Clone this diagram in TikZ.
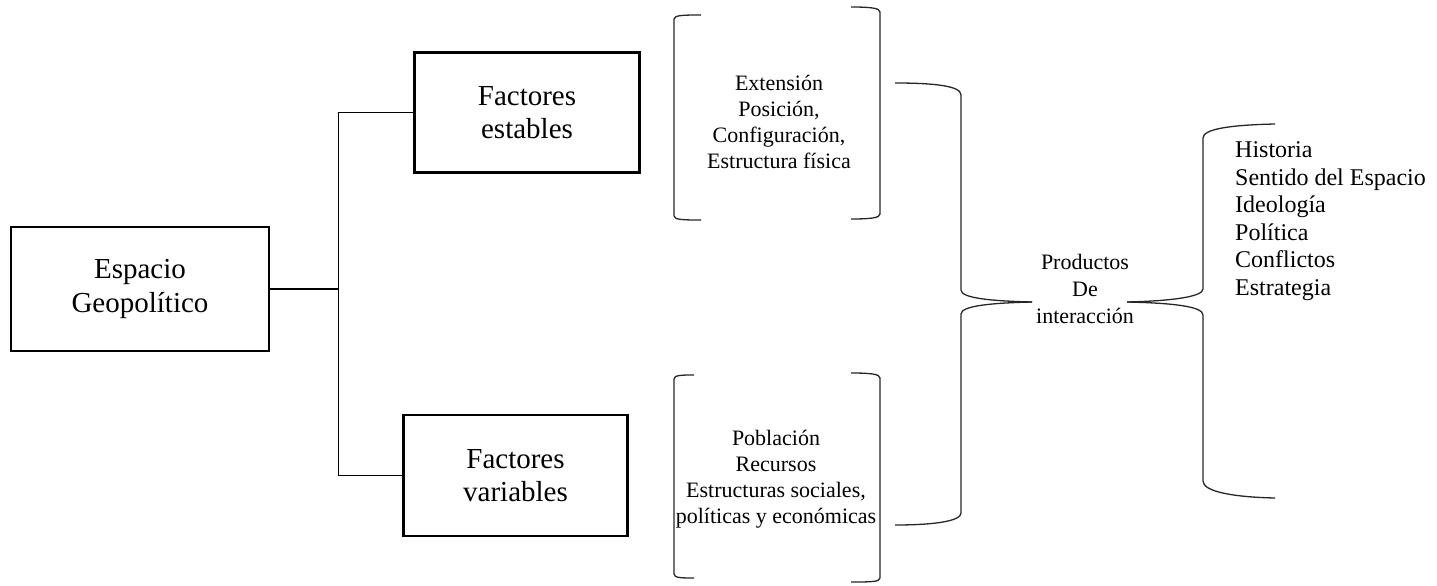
\documentclass[tikz,border=0pt]{standalone}
\usepackage{fontspec}
\setmainfont{Liberation Serif}
\begin{document}
\begin{tikzpicture}[x=1pt,y=-1pt,
  box/.style={draw, line width=2.2pt, align=center, inner sep=0pt, font=\fontsize{29}{33.4}\selectfont},
  conn/.style={line width=1.2pt},
  brk/.style={line width=1.3pt, draw=black!85},
  lbl/.style={align=center, inner sep=0pt, font=\fontsize{22}{26}\selectfont},
  lst/.style={align=left, inner sep=0pt, font=\fontsize{24}{27.5}\selectfont}]
\useasboundingbox (0,0) rectangle (1437,586);
% boxes
\node[box, minimum width=258pt, minimum height=124pt] (esp) at (140,289) {Espacio\\Geopolítico};
\node[box, minimum width=225pt, minimum height=120pt] (fe) at (527,112.5) {Factores\\estables};
\node[box, minimum width=224pt, minimum height=121pt] (fv) at (515.5,475.5) {Factores\\variables};
% connectors
\draw[conn] (esp.east) -- ++(68,0) coordinate (j);
\draw[conn] (j |- fe.west) -- (j |- fv.west);
\draw[conn] (j |- fe.west) -- (fe.west);
\draw[conn] (j |- fv.west) -- (fv.west);
% bracket texts
\node[lbl] (t1) at (779,122) {Extensión\\Posición,\\Configuración,\\Estructura física};
\node[lbl] (t2) at (776,479) {Población\\Recursos\\Estructuras sociales,\\políticas y económicas};
% top bracket
\draw[brk] (701,15) .. controls (685,15) and (674,15) .. (674,19) -- (674,216) .. controls (674,220) and (685,220) .. (701,220);
\draw[brk] (851,7) .. controls (870,7) and (880,8) .. (880,12) -- (880,214) .. controls (880,218) and (870,219) .. (851,219);
% bottom bracket
\draw[brk] (694,375) .. controls (682,375) and (674,375) .. (674,379) -- (674,574) .. controls (674,578) and (682,578) .. (694,578);
\draw[brk] (851,373) .. controls (870,373) and (880,374) .. (880,378) -- (880,578) .. controls (880,582) and (870,582) .. (851,582);
% middle brace
\node[lbl, font=\fontsize{22}{27}\selectfont] (prod) at (1085,289) {Productos\\De\\interacción};
\coordinate (m1) at (1032,302);
\draw[brk] (895,83) .. controls (935,83) and (961,86) .. (961,95) -- (961,290) .. controls (961,298) and (990,301) .. (m1);
\draw[brk] (m1) .. controls (990,303) and (961,306) .. (961,314) -- (961,513) .. controls (961,521) and (935,525) .. (895,525);
% right brace
\coordinate (m2) at (1127,302);
\draw[brk] (1275,124) .. controls (1230,125) and (1203,129) .. (1203,138) -- (1203,289) .. controls (1203,297) and (1170,301) .. (m2);
\draw[brk] (m2) .. controls (1170,303) and (1203,306) .. (1203,315) -- (1203,481) .. controls (1203,491) and (1230,497) .. (1275,498);
% list
\node[lst, anchor=west] (list) at (1235,221) {Historia\\Sentido del Espacio\\Ideología\\Política\\Conflictos\\Estrategia};
\end{tikzpicture}
\end{document}
